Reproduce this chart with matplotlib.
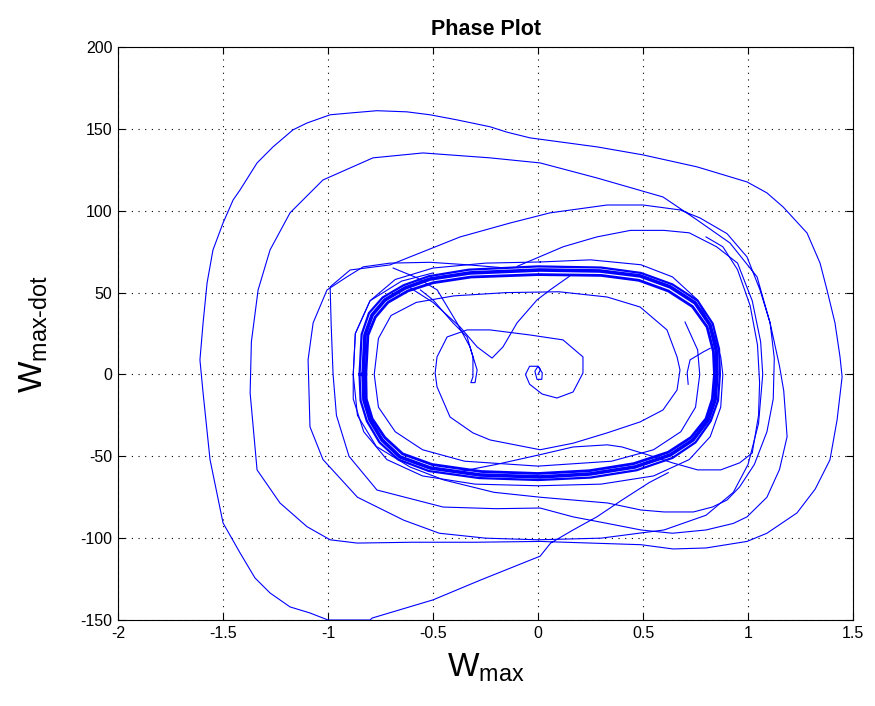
import matplotlib
matplotlib.use("Agg")
import matplotlib.pyplot as plt

plt.rcParams['font.family'] = ['Liberation Sans', 'DejaVu Sans']
plt.rcParams['mathtext.fontset'] = 'custom'
plt.rcParams['mathtext.rm'] = 'Liberation Sans'
plt.rcParams['axes.unicode_minus'] = False

# trajectory pieces of the phase portrait (W_max, dW_max/dt)
spiral_x = [0.0, 0.012, 0.0, -0.015, -0.005, 0.018, 0.02, 0.0, -0.04, -0.06, -0.04, 0.02, 0.09, 0.167,
            0.214, 0.214, 0.119, -0.038, -0.229, -0.338, -0.433, -0.481, -0.49, -0.481, -0.419, -0.31,
            -0.229, 0.01, 0.167, 0.329, 0.486, 0.595, 0.662, 0.676, 0.662, 0.614, 0.486, 0.329, 0.10,
            -0.15, -0.40, -0.58, -0.70, -0.76, -0.78, -0.76, -0.68, -0.55, -0.35, 0.0, 0.35, 0.55, 0.68,
            0.75, 0.77, 0.76, 0.70]
spiral_y = [0, 3, 5, 2, -3, -3, 1, 5, 5, 0, -6, -12, -14.4, -10.7, 0.9, 10.7, 21.1, 24.1, 27.2, 27.2,
            22.9, 10.7, 0.9, -7.6, -26, -35.7, -40, -46, -42, -35.7, -29, -21.7, -9.5, 2.7, 10.7, 27.2,
            41.2, 47.3, 50.5, 50, 48, 44, 36, 22, 0, -20, -35, -46, -53, -56, -53, -46, -35, -20, 0, 15, 32]

# limit cycle, drawn as a bundle of close turns
band_x = [-0.833, -0.824, -0.790, -0.729, -0.633, -0.514, -0.324, 0.010, 0.295, 0.486, 0.629, 0.748,
          0.819, 0.848, 0.852, 0.843, 0.810, 0.738, 0.629, 0.462, 0.248, 0.010, -0.276, -0.514, -0.657,
          -0.743, -0.800, -0.829, -0.833]
band_y = [0, 24.1, 36.3, 45.5, 52.8, 58.3, 62.0, 63.8, 63.2, 60.2, 53.5, 43.7, 30.2, 15.0, 0.3, -15.6,
          -27.8, -40.0, -49.2, -56.5, -60.8, -62.6, -61.4, -57.1, -50.4, -40.0, -27.8, -15.6, 0]

band2_x = [-0.82, -0.81, -0.775, -0.715, -0.62, -0.5, -0.32, 0.0, 0.3, 0.48, 0.62, 0.735, 0.805, 0.835,
           0.84, 0.83, 0.8, 0.728, 0.62, 0.455, 0.245, 0.0, -0.27, -0.505, -0.645, -0.73, -0.79, -0.818,
           -0.82]
band2_y = [0, 24, 35, 44, 51, 56, 59.5, 61, 60.5, 57.5, 51, 41.5, 29, 14, 0, -15, -27, -38.5, -47.5,
           -54.5, -58.8, -60.5, -59.3, -55, -48.5, -38.5, -27, -15, 0]

band3_x = [-0.85, -0.84, -0.805, -0.74, -0.64, -0.52, -0.33, 0.0, 0.3, 0.49, 0.64, 0.76, 0.832, 0.862,
           0.866, 0.857, 0.822, 0.75, 0.64, 0.47, 0.25, 0.0, -0.28, -0.52, -0.665, -0.755, -0.815,
           -0.845, -0.85]
band3_y = [0, 24.5, 37.5, 47, 54.5, 60, 64, 66, 65.3, 62, 55, 45, 31, 15.5, 0, -16, -28.5, -41.5,
           -51, -58.5, -63, -64.5, -63.3, -59, -52, -41.5, -28.5, -16, 0]

outer_x = [0.01, 0.25, 0.49, 0.64, 0.76, 0.83, 0.87, 0.88, 0.87, 0.82, 0.72, 0.55, 0.3, 0.0, -0.3,
           -0.55, -0.72, -0.83, -0.88, -0.88, -0.87, -0.8, -0.68, -0.5, -0.25, 0.01]
outer_y = [68.7, 70, 67, 59.6, 45.5, 27, 10.7, 0, -20, -38, -52, -62, -67, -68, -67, -62, -52, -35,
           -15, 0, 25, 45, 58, 65, 68, 68.7]

vee_x = [-0.61, -0.50, -0.371, -0.29, -0.219, -0.167, -0.10, -0.005, 0.057, 0.15]
vee_y = [53, 44, 29, 16.8, 10, 16.8, 31.5, 45.5, 51.6, 60]

hook_x = [-0.69, -0.576, -0.48, -0.386, -0.324, -0.29, -0.30, -0.32, -0.31, -0.31, -0.338, -0.405,
          -0.5, -0.56]
hook_y = [65, 59, 51.6, 31.5, 16.8, 2.7, -5, -5, -1.5, 10.7, 23, 31.5, 45.5, 51.6]

spur_x = [0.82, 0.786, 0.724, 0.71, 0.715]
spur_y = [16, 13.7, 8.9, 1, -6]

# big excursion: outermost loop, second loop and the return towards the cycle
swing_x = [0.62, 0.53, 0.4, 0.28, 0.167, 0.06, 0.01, -0.276, -0.5, -0.79, -0.80, -1.0, -1.086,
           -1.181, -1.276, -1.348, -1.419, -1.5, -1.562, -1.595, -1.61, -1.595, -1.576, -1.548, -1.5,
           -1.452, -1.419, -1.338, -1.262, -1.167, -1.1, -0.99, -0.895, -0.767, -0.624, -0.514,
           -0.386, -0.229, -0.148, -0.038, 0.281, 0.5, 0.757, 0.995, 1.09, 1.167, 1.281, 1.343,
           1.376, 1.414, 1.438, 1.448, 1.424, 1.39, 1.32, 1.233, 1.09, 0.995, 0.8, 0.643, 0.49, 0.25,
           0.01, -0.3, -0.6, -0.862, -0.99, -1.1, -1.229, -1.338, -1.371, -1.365, -1.333, -1.276,
           -1.181, -1.024, -0.786, -0.548, -0.229, 0.01, 0.281, 0.595, 0.757, 0.914, 1.043, 1.105,
           1.15, 1.17, 1.186, 1.15, 1.09, 0.995, 0.93, 0.8, 0.64, 0.49, 0.33, 0.167, 0.01, -0.2,
           -0.452, -0.767, -0.90, -0.96, -0.976, -0.985, -0.99, -0.895, -0.705, -0.562, -0.371,
           -0.133, 0.057, 0.329, 0.5, 0.676, 0.771, 0.9, 0.995, 1.057, 1.105, 1.125, 1.12, 1.09, 1.03,
           0.96, 0.9, 0.83, 0.74, 0.6, 0.49, 0.33, 0.01, -0.21, -0.45, -0.61, -0.77, -0.86, -0.88,
           -0.87, -0.8, -0.65, -0.5]
swing_y = [-60, -66, -76.7, -87, -95, -103, -111, -125.7, -137.7, -148.8, -150, -150, -145.7, -142,
           -133.5, -124.3, -109, -90.7, -52, -11.3, 8.9, 31.5, 55.9, 76, 92.5, 106.6, 112.7, 129.2,
           139, 149.4, 153.6, 158.6, 159.7, 161.1, 160.4, 158.6, 155.5, 151.3, 148, 144.5, 139, 134.1,
           126.8, 117.6, 110.9, 102.3, 86.4, 68, 51.6, 31.5, 10.7, -1.5, -27.8, -52.2, -70, -84.6,
           -97, -102, -106, -106.6, -104, -103, -102, -102.5, -102.5, -103, -101, -93, -78.5, -58.3,
           -11.3, 20, 51.6, 76.1, 98.7, 118.8, 132.3, 135.3, 132.3, 129.2, 120, 108.4, 94.4, 80.3,
           59.6, 31.5, 5, -10, -38, -58, -75, -87, -91, -95, -97, -95, -91, -87, -81.6, -82, -81,
           -70.6, -50, -25, 0, 30, 53.5, 63.8, 66.9, 74.2, 84, 92.5, 98.7, 103.5, 103.5, 100.5, 95.6,
           86, 71.8, 51.6, 31.5, 10, -15, -35, -55, -68.7, -76.7, -81, -84, -84, -82.8, -78.5, -75,
           -72, -64.4, -56.5, -44, -25, 0, 25, 45, 57, 62]

loop_q_x = [-0.1, 0.12, 0.28, 0.44, 0.6, 0.72, 0.85, 0.95, 1.02, 1.06, 1.07, 1.05, 1.0, 0.93, 0.8,
            0.6, 0.3, 0.0, -0.25, -0.47, -0.64, -0.86, -1.024, -1.086, -1.095, -1.071, -1.005, -0.91,
            -0.833, -0.705, -0.514, -0.338, -0.15]
loop_q_y = [66, 78, 84, 88, 88, 86.5, 78, 68, 45, 20, 0, -30, -55, -72, -86, -95, -100, -101, -100,
            -97, -89, -75, -52, -32, 9, 31.5, 51.6, 59.6, 65.7, 68, 68.5, 67, 65]

loop_r_x = [0.80, 0.88, 0.95, 1.01, 1.045, 1.055, 1.05, 1.02, 0.96, 0.87, 0.76, 0.64, 0.52, 0.4, 0.33,
            0.167, 0.01, -0.2, -0.4]
loop_r_y = [84, 78, 64, 42, 18, -5, -25, -48, -54, -58.3, -58.3, -54, -49, -44.3, -43, -44.3, -49,
            -55, -60]

xticks = [-2, -1.5, -1, -0.5, 0, 0.5, 1, 1.5]
xtick_labels = ['-2', '-1.5', '-1', '-0.5', '0', '0.5', '1', '1.5']
yticks = [-150, -100, -50, 0, 50, 100, 150, 200]

fig = plt.figure(figsize=(8.75, 7.06), dpi=100)
ax = fig.add_axes([0.1349, 0.1218, 0.84, 0.8116])

blue = (0, 0, 1)
ax.plot(band_x, band_y, color=blue, lw=2.6, solid_joinstyle='round')
ax.plot(band2_x, band2_y, color=blue, lw=2.0, solid_joinstyle='round')
ax.plot(band3_x, band3_y, color=blue, lw=1.6, solid_joinstyle='round')
for px, py in [(spiral_x, spiral_y), (outer_x, outer_y), (vee_x, vee_y), (hook_x, hook_y),
               (spur_x, spur_y), (swing_x, swing_y), (loop_q_x, loop_q_y), (loop_r_x, loop_r_y)]:
    ax.plot(px, py, color=blue, lw=0.8, solid_joinstyle='round')

ax.set_xlim(-2, 1.5)
ax.set_ylim(-150, 200)
ax.set_xticks(xticks)
ax.set_yticks(yticks)
ax.set_xticklabels(xtick_labels)
ax.grid(True, color='black', linestyle=(0, (1, 5)), linewidth=0.8)
ax.tick_params(direction='in', length=5, top=True, right=True, labelsize=11.5, pad=4)
for s in ax.spines.values():
    s.set_linewidth(0.8)

ax.set_title('Phase Plot', fontsize=15.5, fontweight='bold', pad=9)
ax.set_xlabel(r'$\mathregular{W_{max}}$', fontsize=24, labelpad=8)
ax.set_ylabel(r'$\mathregular{W_{max\text{-}dot}}$', fontsize=24, labelpad=22)

fig.savefig('out.png', dpi=100, facecolor='white')
